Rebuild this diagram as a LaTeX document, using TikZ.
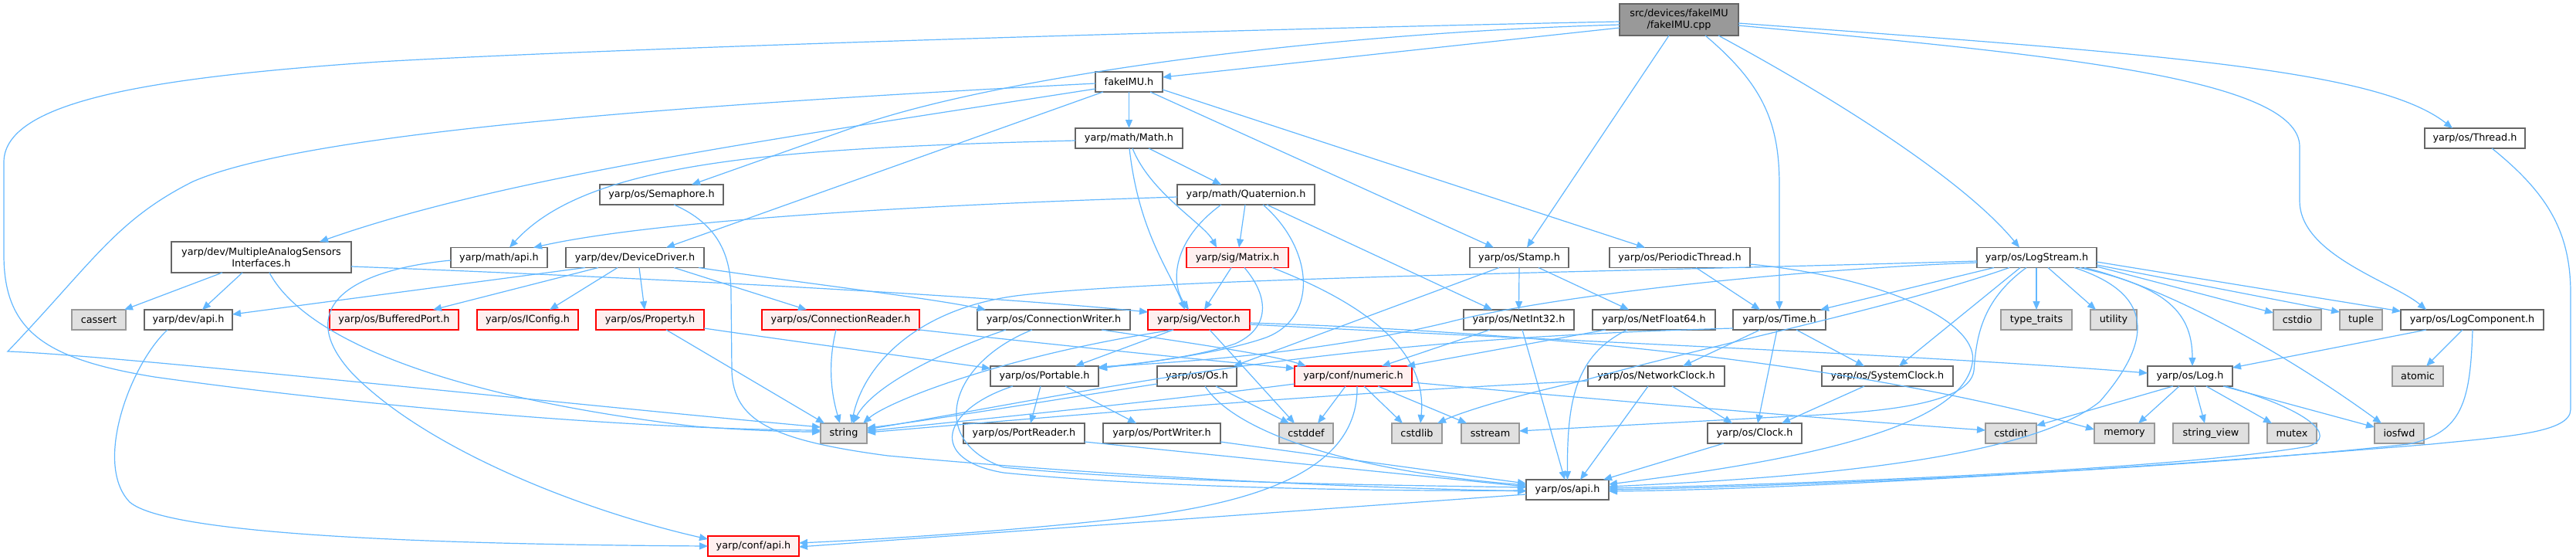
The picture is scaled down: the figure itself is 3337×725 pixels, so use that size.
\documentclass[tikz,border=0pt]{standalone}
\usepackage{fontspec}
\setmainfont{DejaVu Sans}
\usetikzlibrary{arrows.meta}
\definecolor{edgec}{HTML}{63B8FF}
\definecolor{grayborder}{HTML}{666666}
\definecolor{sysborder}{HTML}{999999}
\definecolor{sysfill}{HTML}{E0E0E0}
\definecolor{redfill}{HTML}{FFF0F0}
\definecolor{rootfill}{HTML}{999999}
\begin{document}
\begin{tikzpicture}[x=1pt,y=-1pt,
  nd/.style={draw=grayborder, fill=white, line width=1.5pt, inner sep=0pt, outer sep=0pt, minimum height=26pt, font=\fontsize{12.8pt}{15pt}\selectfont, align=center},
  rd/.style={nd, draw=red, fill=redfill},
  sys/.style={nd, draw=sysborder, fill=sysfill},
  rootnode/.style={nd, fill=rootfill, draw=grayborder},
  dep/.style={draw=edgec, line width=1.2pt, -{Triangle[length=11pt,width=9pt]}}
]
\fill[white] (0,0) rectangle (3337,725);
\useasboundingbox (0,0) rectangle (3337,725);

% ---------- nodes ----------
\node[rootnode, minimum width=154pt, minimum height=41pt] (cpp) at (2175,25.5) {src/devices/fakeIMU\\/fakeIMU.cpp};
\node[nd, minimum width=87pt] (fakeimu) at (1462.5,106) {fakeIMU.h};
\node[nd, minimum width=139pt] (math) at (1462.5,179) {yarp/math/Math.h};
\node[nd, minimum width=130pt] (thread) at (3206,179) {yarp/os/Thread.h};
\node[nd, minimum width=160pt] (sema) at (857,252) {yarp/os/Semaphore.h};
\node[nd, minimum width=178pt] (quat) at (1614,252) {yarp/math/Quaternion.h};
\node[nd, minimum width=233pt, minimum height=40pt] (mas) at (338.5,333) {yarp/dev/MultipleAnalogSensors\\Interfaces.h};
\node[nd, minimum width=125pt] (mathapi) at (646.5,333.5) {yarp/math/api.h};
\node[nd, minimum width=179pt] (devdrv) at (822.5,333.5) {yarp/dev/DeviceDriver.h};
\node[rd, minimum width=132pt] (matrix) at (1603,333.5) {yarp/sig/Matrix.h};
\node[nd, minimum width=128pt] (stamp) at (1968,333.5) {yarp/os/Stamp.h};
\node[nd, minimum width=182pt] (pthread) at (2176,333.5) {yarp/os/PeriodicThread.h};
\node[nd, minimum width=155pt] (logstream) at (2638.5,333.5) {yarp/os/LogStream.h};

\node[sys, minimum width=70pt] (cassert) at (128,414) {cassert};
\node[nd, minimum width=114pt] (devapi) at (244,414) {yarp/dev/api.h};
\node[rd, minimum width=167pt] (bufport) at (510.5,414) {yarp/os/BufferedPort.h};
\node[rd, minimum width=131pt] (iconfig) at (683.5,414) {yarp/os/IConfig.h};
\node[rd, minimum width=140pt] (property) at (842,414) {yarp/os/Property.h};
\node[rd, minimum width=204pt] (connreader) at (1089,414) {yarp/os/ConnectionReader.h};
\node[nd, minimum width=198pt] (connwriter) at (1365,414) {yarp/os/ConnectionWriter.h};
\node[rd, minimum width=132pt] (vector) at (1553,414) {yarp/sig/Vector.h};
\node[nd, minimum width=143pt] (netint) at (1967.5,414) {yarp/os/NetInt32.h};
\node[nd, minimum width=159pt] (netfloat) at (2142.5,414) {yarp/os/NetFloat64.h};
\node[nd, minimum width=120pt] (time) at (2305,414) {yarp/os/Time.h};
\node[sys, minimum width=92pt] (typetraits) at (2638,414) {type\_traits};
\node[sys, minimum width=60pt] (utility) at (2738,414) {utility};
\node[sys, minimum width=62pt] (cstdio) at (2976,414) {cstdio};
\node[sys, minimum width=55pt] (tuple) at (3058.5,414) {tuple};
\node[nd, minimum width=185pt] (logcomp) at (3202.5,414) {yarp/os/LogComponent.h};

\node[nd, minimum width=140pt] (portable) at (1353,487) {yarp/os/Portable.h};
\node[nd, minimum width=103pt] (os) at (1550.5,487) {yarp/os/Os.h};
\node[rd, minimum width=152pt] (numeric) at (1753,487) {yarp/conf/numeric.h};
\node[nd, minimum width=177pt] (netclock) at (2145.5,487) {yarp/os/NetworkClock.h};
\node[nd, minimum width=170pt] (sysclock) at (2445,487) {yarp/os/SystemClock.h};
\node[nd, minimum width=110pt] (log) at (2837,487) {yarp/os/Log.h};
\node[sys, minimum width=66pt] (atomic) at (3132,487) {atomic};

\node[sys, minimum width=60pt] (string) at (1093,561) {string};
\node[nd, minimum width=157pt] (portreader) at (1326.5,561) {yarp/os/PortReader.h};
\node[nd, minimum width=152pt] (portwriter) at (1505,561) {yarp/os/PortWriter.h};
\node[sys, minimum width=70pt] (cstddef) at (1692,561) {cstddef};
\node[sys, minimum width=65pt] (cstdlib) at (1835.5,561) {cstdlib};
\node[sys, minimum width=75pt] (sstream) at (1930.5,561) {sstream};
\node[nd, minimum width=122pt] (clock) at (2273,561) {yarp/os/Clock.h};
\node[sys, minimum width=66pt] (cstdint) at (2605,561) {cstdint};
\node[sys, minimum width=78pt] (memory) at (2752,561) {memory};
\node[sys, minimum width=98pt] (stringview) at (2864,561) {string\_view};
\node[sys, minimum width=64pt] (mutex) at (2969,561) {mutex};
\node[sys, minimum width=64pt] (iosfwd) at (3108,561) {iosfwd};

\node[nd, minimum width=107pt] (osapi) at (2030.5,634) {yarp/os/api.h};
\node[rd, minimum width=118pt] (confapi) at (976,707) {yarp/conf/api.h};

% ---------- edges ----------
% cpp
\draw[dep] ([yshift=-10.5pt]cpp.west) -- ([yshift=6pt]fakeimu.east);
\draw[dep] ([yshift=-2.5pt]cpp.west) .. controls (1600,38) and (800,62) .. (491,80) .. controls (200,100) and (5,130) .. (5,210) -- (5,330) .. controls (5,430) and (60,465) .. (200,488) .. controls (500,530) and (850,556) .. ([yshift=4pt]string.west);
\draw[dep] ([yshift=-6.5pt]cpp.west) .. controls (1650,45) and (1250,110) .. (1100,167) -- ([xshift=39pt]sema.north);
\draw[dep] ([xshift=-13pt]cpp.south) -- ([xshift=10pt]stamp.north);
\draw[dep] ([xshift=34pt]cpp.south) .. controls (2285,110) and (2305,160) .. (2305,240) -- (time.north);
\draw[dep] ([xshift=51pt]cpp.south) .. controls (2400,140) and (2550,240) .. ([xshift=-22.5pt]logstream.north);
\draw[dep] ([yshift=-7.5pt]cpp.east) .. controls (2650,70) and (2979,100) .. (2979,190) -- (2979,260) .. controls (2979,330) and (3100,365) .. ([xshift=-59.5pt]logcomp.north);
\draw[dep] ([yshift=-4.5pt]cpp.east) .. controls (2800,70) and (3080,90) .. ([xshift=-29pt]thread.north);
% fakeIMU.h
\draw[dep] (fakeimu.south) -- (math.north);
\draw[dep] ([yshift=-9pt]fakeimu.west) .. controls (1000,180) and (650,230) .. ([xshift=75.5pt]mas.north);
\draw[dep] ([xshift=-33.5pt]fakeimu.south) -- ([xshift=40.5pt]devdrv.north);
\draw[dep] ([yshift=-2pt]fakeimu.west) .. controls (900,135) and (400,170) .. (250,235) .. controls (150,285) and (120,340) .. (10,455) .. controls (150,460) and (700,520) .. ([yshift=8pt]string.west);
\draw[dep] ([xshift=27.5pt]fakeimu.south) -- ([xshift=-33pt]stamp.north);
\draw[dep] ([yshift=-10pt]fakeimu.east) -- ([xshift=-45pt]pthread.north);
% Math.h
\draw[dep] ([yshift=-3pt]math.west) .. controls (1000,192) and (760,210) .. ([xshift=13.5pt]mathapi.north);
\draw[dep] ([xshift=25.5pt]math.south) -- ([xshift=-32pt]quat.north);
\draw[dep] ([xshift=4.5pt]math.south) .. controls (1490,250) and (1560,290) .. ([xshift=-27pt]matrix.north);
\draw[dep] ([xshift=0.5pt]math.south) .. controls (1475,300) and (1515,350) .. ([xshift=-18pt]vector.north);
% Quaternion.h
\draw[dep] ([yshift=-3pt]quat.west) .. controls (1200,265) and (850,285) .. ([xshift=44.5pt]mathapi.north);
\draw[dep] ([xshift=-1pt]quat.south) -- ([xshift=2pt]matrix.north);
\draw[dep] ([xshift=-32pt]quat.south) .. controls (1520,310) and (1515,365) .. ([xshift=-13pt]vector.north);
\draw[dep] ([xshift=27pt]quat.south) -- ([xshift=-34.5pt]netint.north);
\draw[dep] ([xshift=22pt]quat.south) .. controls (1700,320) and (1710,410) .. (1640,437) .. controls (1580,458) and (1480,470) .. ([yshift=10pt]portable.east);
% Matrix.h
\draw[dep] ([xshift=-8pt]matrix.south) -- ([xshift=7pt]vector.north);
\draw[dep] ([xshift=9pt]matrix.south) .. controls (1645,385) and (1645,425) .. (1600,445) .. controls (1550,462) and (1480,470) .. ([yshift=11pt]portable.east);
\draw[dep] ([xshift=45pt]matrix.south) .. controls (1760,390) and (1850,450) .. ([xshift=4.5pt]cstdlib.north);
% MultipleAnalogSensorsInterfaces.h
\draw[dep] ([xshift=-50.5pt]mas.south) -- ([xshift=33pt]cassert.north);
\draw[dep] ([xshift=-24.5pt]mas.south) -- ([xshift=18pt]devapi.north);
\draw[dep] ([xshift=10.5pt]mas.south) .. controls (390,430) and (550,510) .. (900,552) .. controls (980,558) and (1030,559) .. ([yshift=2pt]string.west);
\draw[dep] ([yshift=-12pt]mas.east) .. controls (900,362) and (1300,385) .. ([yshift=10pt]vector.west);
% DeviceDriver.h
\draw[dep] ([xshift=-64.5pt]devdrv.south) -- ([yshift=7pt]devapi.east);
\draw[dep] ([xshift=-47.5pt]devdrv.south) -- ([xshift=50.5pt]bufport.north);
\draw[dep] ([xshift=-22.5pt]devdrv.south) -- ([xshift=28.5pt]iconfig.north);
\draw[dep] ([xshift=5.5pt]devdrv.south) -- ([xshift=-7pt]property.north);
\draw[dep] ([xshift=50.5pt]devdrv.south) -- ([xshift=-44pt]connreader.north);
\draw[dep] ([xshift=82.5pt]devdrv.south) .. controls (1050,368) and (1200,385) .. ([xshift=-88pt]connwriter.north);
% Property.h
\draw[dep] ([xshift=21pt]property.south) -- ([xshift=-25pt]string.north);
\draw[dep] ([yshift=-11pt]property.east) .. controls (1050,445) and (1200,465) .. ([yshift=10pt]portable.west);
% ConnectionReader.h
\draw[dep] ([xshift=-6pt]connreader.south) .. controls (1070,480) and (1080,520) .. ([xshift=-5pt]string.north);
\draw[dep] ([yshift=-13pt]connreader.east) .. controls (1400,450) and (1550,465) .. ([yshift=10pt]numeric.west);
% ConnectionWriter.h
\draw[dep] ([xshift=-62pt]connwriter.south) .. controls (1220,455) and (1130,500) .. ([xshift=12pt]string.north);
\draw[dep] ([xshift=62pt]connwriter.south) .. controls (1550,445) and (1650,460) .. ([xshift=-61pt]numeric.north);
\draw[dep] ([xshift=-28pt]connwriter.south) .. controls (1230,470) and (1200,570) .. (1300,605) .. controls (1500,625) and (1800,628) .. ([yshift=3pt]osapi.west);
% Vector.h
\draw[dep] ([xshift=-33pt]vector.south) .. controls (1300,460) and (1150,520) .. ([xshift=25pt]string.north);
\draw[dep] ([xshift=-33pt]vector.south) -- ([xshift=40pt]portable.north);
\draw[dep] ([xshift=14pt]vector.south) -- ([xshift=-15pt]cstddef.north);
\draw[dep] ([yshift=-4pt]vector.east) .. controls (2000,430) and (2400,470) .. ([yshift=5pt]memory.west);
\draw[dep] ([yshift=-6pt]vector.east) .. controls (2000,440) and (2500,460) .. ([yshift=4pt]log.west);
% Stamp.h
\draw[dep] (stamp.south) -- (netint.north);
\draw[dep] ([xshift=25pt]stamp.south) -- ([xshift=-32.5pt]netfloat.north);
\draw[dep] ([xshift=-26pt]stamp.south) -- ([xshift=47.5pt]os.north);
% PeriodicThread.h
\draw[dep] ([xshift=21pt]pthread.south) -- ([xshift=-25pt]time.north);
\draw[dep] ([yshift=-8.5pt]pthread.east) .. controls (2450,360) and (2565,420) .. (2555,470) .. controls (2540,560) and (2300,600) .. ([yshift=7pt]osapi.east);
% LogStream.h
\draw[dep] ([yshift=-4.5pt]logstream.west) .. controls (2100,352) and (1500,360) .. (1316,383) .. controls (1190,400) and (1120,470) .. ([xshift=10pt]string.north);
\draw[dep] ([yshift=-6.5pt]logstream.west) .. controls (2300,350) and (2000,385) .. (1877,417) .. controls (1720,455) and (1550,468) .. ([yshift=12pt]portable.east);
\draw[dep] ([xshift=-55.5pt]logstream.south) -- ([xshift=53pt]time.north);
\draw[dep] ([xshift=-35.5pt]logstream.south) .. controls (2450,400) and (2200,450) .. (2050,493) .. controls (1950,515) and (1890,535) .. ([xshift=26.5pt]cstdlib.north);
\draw[dep] ([xshift=-21.5pt]logstream.south) -- ([xshift=15pt]sysclock.north);
\draw[dep] ([xshift=-13.5pt]logstream.south) .. controls (2565,390) and (2560,440) .. (2557,480) .. controls (2550,530) and (2400,535) .. (2300,540) -- ([yshift=3pt]sstream.east);
\draw[dep] ([xshift=-0.5pt]logstream.south) -- (typetraits.north);
\draw[dep] ([xshift=14.5pt]logstream.south) -- ([xshift=-23pt]utility.north);
\draw[dep] ([xshift=48.5pt]logstream.south) .. controls (2790,380) and (2790,440) .. (2720,520) .. controls (2620,600) and (2300,620) .. ([yshift=4pt]osapi.east);
\draw[dep] ([xshift=55.5pt]logstream.south) .. controls (2800,370) and (2840,400) .. ([xshift=3pt]log.north);
\draw[dep] ([xshift=61.5pt]logstream.south) .. controls (2800,370) and (2950,450) .. ([xshift=-23pt]iosfwd.north);
\draw[dep] ([yshift=-11.5pt]logstream.east) -- ([yshift=9pt]cstdio.west);
\draw[dep] ([yshift=-9.5pt]logstream.east) -- ([yshift=10pt]tuple.west);
\draw[dep] ([yshift=-5.5pt]logstream.east) -- ([yshift=11pt]logcomp.west);
% Thread.h
\draw[dep] ([xshift=22pt]thread.south) .. controls (3300,250) and (3330,300) .. (3330,380) -- (3330,530) .. controls (3330,560) and (3250,565) .. (3150,575) .. controls (2700,612) and (2300,634) .. ([yshift=-2pt]osapi.east);
% LogComponent.h
\draw[dep] ([xshift=-59.5pt]logcomp.south) -- ([yshift=11pt]log.east);
\draw[dep] ([xshift=-12.5pt]logcomp.south) -- ([xshift=11pt]atomic.north);
\draw[dep] ([xshift=0.5pt]logcomp.south) .. controls (3200,520) and (3190,560) .. (3120,575) .. controls (2800,610) and (2300,630) .. (osapi.east);
% Log.h
\draw[dep] ([xshift=-22pt]log.south) -- ([yshift=10pt]cstdint.east);
\draw[dep] ([xshift=-14pt]log.south) -- ([xshift=18pt]memory.north);
\draw[dep] ([xshift=6pt]log.south) -- ([xshift=-8pt]stringview.north);
\draw[dep] ([xshift=21pt]log.south) -- ([xshift=-26pt]mutex.north);
\draw[dep] ([xshift=43pt]log.south) -- ([yshift=8pt]iosfwd.west);
\draw[dep] ([xshift=46pt]log.south) .. controls (2990,530) and (3030,565) .. (2990,578) .. controls (2800,610) and (2300,628) .. ([yshift=2pt]osapi.east);
% Time.h
\draw[dep] ([yshift=-11pt]time.west) .. controls (1700,440) and (1450,500) .. ([yshift=5pt]string.east);
\draw[dep] ([xshift=-25pt]time.south) -- ([xshift=34.5pt]netclock.north);
\draw[dep] ([xshift=22pt]time.south) -- ([xshift=-30pt]sysclock.north);
\draw[dep] ([xshift=-3pt]time.south) -- ([xshift=4pt]clock.north);
% NetInt32.h / NetFloat64.h
\draw[dep] ([xshift=-37.5pt]netint.south) -- ([xshift=37pt]numeric.north);
\draw[dep] ([xshift=4.5pt]netint.south) -- ([xshift=-3.5pt]osapi.north);
\draw[dep] ([xshift=-62.5pt]netfloat.south) -- ([xshift=69pt]numeric.north);
\draw[dep] ([xshift=-34.5pt]netfloat.south) .. controls (2040,460) and (2030,520) .. (osapi.north);
% numeric.h
\draw[dep] ([yshift=-10pt]numeric.west) .. controls (1500,520) and (1200,550) .. ([yshift=3pt]string.east);
\draw[dep] ([xshift=-10pt]numeric.south) -- ([xshift=15pt]cstddef.north);
\draw[dep] ([xshift=14pt]numeric.south) -- ([xshift=-18.5pt]cstdlib.north);
\draw[dep] ([xshift=32pt]numeric.south) -- ([xshift=-30.5pt]sstream.north);
\draw[dep] ([yshift=-8pt]numeric.east) .. controls (2100,520) and (2400,545) .. ([yshift=4pt]cstdint.west);
\draw[dep] ([xshift=5pt]numeric.south) .. controls (1760,600) and (1650,645) .. (1491,667) .. controls (1300,690) and (1100,700) .. ([yshift=4pt]confapi.east);
% Os.h
\draw[dep] ([yshift=-10pt]os.west) .. controls (1350,520) and (1200,545) .. ([yshift=7pt]string.east);
\draw[dep] ([xshift=24.5pt]os.south) -- ([xshift=-22pt]cstddef.north);
\draw[dep] ([xshift=10.5pt]os.south) .. controls (1600,560) and (1750,610) .. ([yshift=6pt]osapi.west);
% Portable.h
\draw[dep] ([xshift=-5pt]portable.south) -- ([xshift=8.5pt]portreader.north);
\draw[dep] ([xshift=27pt]portable.south) -- ([xshift=-33pt]portwriter.north);
\draw[dep] ([xshift=-41pt]portable.south) .. controls (1220,530) and (1200,595) .. (1300,612) .. controls (1500,632) and (1800,636) .. ([yshift=-1pt]osapi.west);
\draw[dep] ([yshift=-11pt]portreader.east) -- ([yshift=4pt]osapi.west);
\draw[dep] ([yshift=-11pt]portwriter.east) -- ([yshift=8pt]osapi.west);
% clocks
\draw[dep] ([yshift=-6pt]netclock.west) .. controls (1700,510) and (1300,545) .. ([yshift=1pt]string.east);
\draw[dep] ([xshift=20.5pt]netclock.south) -- ([xshift=-29pt]clock.north);
\draw[dep] ([xshift=-10.5pt]netclock.south) -- ([xshift=16.5pt]osapi.north);
\draw[dep] ([xshift=-30pt]sysclock.south) -- ([xshift=35pt]clock.north);
\draw[dep] ([xshift=-40pt]clock.south) -- ([xshift=46.5pt]osapi.north);
% Semaphore.h
\draw[dep] ([xshift=16pt]sema.south) .. controls (930,290) and (947,330) .. (947,380) -- (948,480) .. controls (950,545) and (1000,570) .. (1150,590) .. controls (1500,622) and (1800,632) .. ([yshift=-2pt]osapi.west);
% api headers
\draw[dep] ([xshift=-27pt]devapi.south) .. controls (170,470) and (120,600) .. (168,650) .. controls (220,695) and (600,705) .. (confapi.west);
\draw[dep] ([yshift=-3.5pt]mathapi.west) .. controls (450,350) and (380,400) .. (456,483) .. controls (550,580) and (750,660) .. ([yshift=9pt]confapi.west);
\draw[dep] ([yshift=-6pt]osapi.west) -- ([yshift=-1pt]confapi.east);
\end{tikzpicture}
\end{document}
